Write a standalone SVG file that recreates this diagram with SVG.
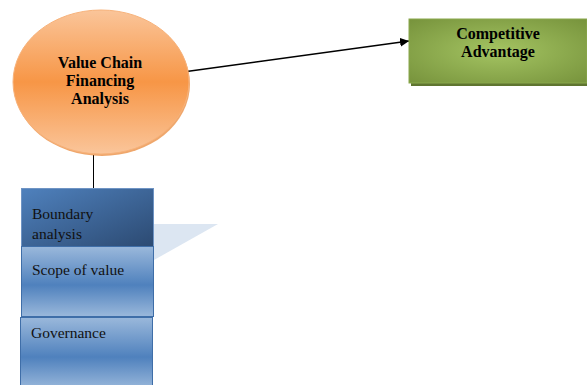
<svg xmlns="http://www.w3.org/2000/svg" width="587" height="385" viewBox="0 0 587 385">
<style>
text{font-family:"Liberation Serif","Times New Roman","DejaVu Serif",serif;fill:#000}
.b{font-weight:bold;font-size:16px;text-anchor:middle}
.n{font-size:15.5px;fill:#111}
.conn{stroke:#000;fill:none}
</style>
<defs>
<linearGradient id="og" x1="0" y1="0" x2="0" y2="1">
<stop offset="0" stop-color="#fac59a"/>
<stop offset="0.5" stop-color="#f79646"/>
<stop offset="1" stop-color="#fac59a"/>
</linearGradient>
<radialGradient id="gg" cx="0.5" cy="0.5" r="0.7">
<stop offset="0" stop-color="#a4c462"/>
<stop offset="1" stop-color="#77933c"/>
</radialGradient>
<linearGradient id="dg" x1="0" y1="0" x2="1" y2="1">
<stop offset="0" stop-color="#4f81bd"/>
<stop offset="1" stop-color="#2c4a72"/>
</linearGradient>
<linearGradient id="lg" x1="0" y1="0" x2="0" y2="1">
<stop offset="0" stop-color="#9ab8db"/>
<stop offset="0.55" stop-color="#4f81bd"/>
<stop offset="1" stop-color="#9ab8db"/>
</linearGradient>
<marker id="ah" viewBox="0 0 10 10" refX="10" refY="5" markerWidth="9" markerHeight="9" markerUnits="userSpaceOnUse" orient="auto">
<path d="M0,0 L10,5 L0,10 z" fill="#000"/>
</marker>
</defs>
<polygon points="154,224 218,224 154,260" fill="#dce6f2"/>
<g id="connectors">
<line class="conn" x1="183" y1="72" x2="409" y2="41" stroke-width="1.6" marker-end="url(#ah)"/>
<line class="conn" x1="93.5" y1="155" x2="93.5" y2="189" stroke-width="1"/>
</g>
<g id="value-chain">
<ellipse cx="102" cy="84" rx="88" ry="72" fill="#e46c0a" opacity="0.6"/>
<ellipse cx="101" cy="82" rx="88" ry="72" fill="url(#og)" stroke="#f7b27a" stroke-width="1"/>
<text class="b" x="100" y="68">Value Chain</text>
<text class="b" x="100" y="86">Financing</text>
<text class="b" x="100" y="104">Analysis</text>
</g>
<g id="competitive">
<rect x="411" y="21" width="178" height="65" fill="#5f7530"/>
<rect x="409" y="19" width="178" height="64" fill="url(#gg)" stroke="#8aa84d" stroke-width="1"/>
<text class="b" x="498" y="39">Competitive</text>
<text class="b" x="498" y="57">Advantage</text>
</g>
<g id="boundary">
<rect x="21.5" y="188.5" width="132" height="58" fill="url(#dg)" stroke="#6f94c4" stroke-width="1"/>
<text class="n" x="32" y="219">Boundary</text>
<text class="n" x="32" y="239">analysis</text>
</g>
<g id="scope">
<rect x="21.5" y="246.5" width="132" height="70" fill="url(#lg)" stroke="#3f6ea8" stroke-width="1"/>
<text class="n" x="32" y="275">Scope of value</text>
</g>
<g id="governance">
<rect x="20.5" y="317.5" width="132" height="72" fill="url(#lg)" stroke="#3f6ea8" stroke-width="1"/>
<text class="n" x="31" y="338">Governance</text>
</g>
</svg>
